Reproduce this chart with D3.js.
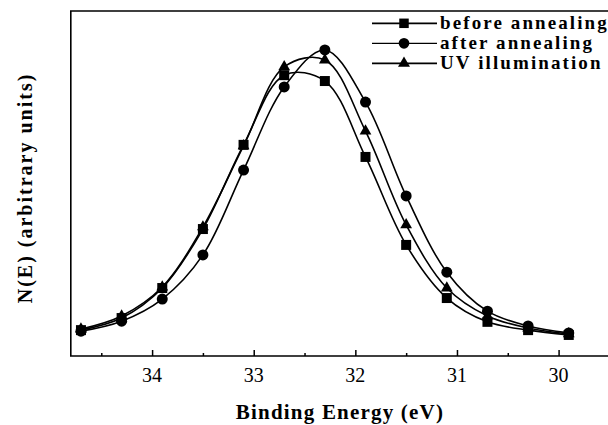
<!DOCTYPE html>
<html>
<head>
<meta charset="utf-8">
<script src="https://cdn.jsdelivr.net/npm/d3@7"></script>
<style>
  body { margin: 0; background: #fff; }
  svg { display: block; }
</style>
</head>
<body>
<script>
// binding energies (eV) where the spectra were sampled
var energies = [34.7, 34.3, 33.9, 33.5, 33.1, 32.7, 32.3, 31.9, 31.5, 31.1, 30.7, 30.3, 29.9];

// N(E), arbitrary units
var beforeAnnealing = [7.5, 11.0, 19.7, 36.8, 61.2, 81.4, 79.7, 57.7, 32.2, 16.8, 9.9, 7.5, 6.1];
var afterAnnealing  = [7.2, 10.1, 16.5, 29.3, 53.9, 78.0, 88.7, 73.6, 46.4, 24.3, 13.0, 8.7, 6.7];
var uvIllumination  = [7.8, 11.6, 20.0, 37.4, 60.9, 83.8, 85.8, 65.2, 38.0, 19.7, 11.6, 8.1, 6.4];

var seriesNames = ["before annealing", "after annealing", "UV illumination"];
var seriesSymbols = ["square", "circle", "triangle"];
var xTicks = [34, 33, 32, 31, 30];
var xMinorTicks = [34.5, 33.5, 32.5, 31.5, 30.5];

var w = 608, h = 425;

var xScale = d3.scaleLinear().domain([34.8, 29.5]).range([70.8, 609.4]);
var yScale = d3.scaleLinear().domain([0, 100]).range([356, 11]);

var svg = d3.select("body").append("svg")
  .attr("width", w)
  .attr("height", h);

// frame (right side runs off the picture like the scan)
svg.append("path")
  .attr("d", "M" + xScale(29.45) + "," + yScale(100) + "H" + xScale(34.8) + "V" + yScale(0) + "H" + xScale(29.45))
  .attr("fill", "none")
  .attr("stroke", "#000")
  .attr("stroke-width", 1.6);

// x axis, ticks pointing inward
var xAxis = svg.append("g")
  .attr("transform", "translate(0," + yScale(0) + ")")
  .call(d3.axisTop(xScale).tickValues(xTicks).tickSize(6).tickFormat(""));
xAxis.select(".domain").remove();
xAxis.selectAll("line").attr("stroke-width", 1.5);

var xMinor = svg.append("g")
  .attr("transform", "translate(0," + yScale(0) + ")")
  .call(d3.axisTop(xScale).tickValues(xMinorTicks).tickSize(3).tickFormat(""));
xMinor.select(".domain").remove();
xMinor.selectAll("line").attr("stroke-width", 1.5);

svg.append("g").selectAll("text")
  .data(xTicks)
  .enter()
  .append("text")
  .text(function(d) { return d; })
  .attr("x", function(d) { return xScale(d); })
  .attr("y", 382)
  .attr("text-anchor", "middle")
  .attr("font-family", "Liberation Serif, serif")
  .attr("font-size", 20);

// axis titles
svg.append("text")
  .text("Binding Energy (eV)")
  .attr("x", 340)
  .attr("y", 419)
  .attr("text-anchor", "middle")
  .attr("font-family", "Liberation Serif, serif")
  .attr("font-weight", "bold")
  .attr("font-size", 21)
  .attr("letter-spacing", 1.2);

svg.append("text")
  .text("N(E) (arbitrary units)")
  .attr("transform", "translate(32,188) rotate(-90)")
  .attr("text-anchor", "middle")
  .attr("font-family", "Liberation Serif, serif")
  .attr("font-weight", "bold")
  .attr("font-size", 20)
  .attr("letter-spacing", 2);

// curves and markers
var allSeries = [beforeAnnealing, afterAnnealing, uvIllumination];

var symbolTypes = {
  square: d3.symbol().type(d3.symbolSquare).size(100),
  circle: d3.symbol().type(d3.symbolCircle).size(95),
  triangle: d3.symbol().type(d3.symbolTriangle).size(60)
};
var legendSymbols = {
  square: d3.symbol().type(d3.symbolSquare).size(90),
  circle: d3.symbol().type(d3.symbolCircle).size(90),
  triangle: d3.symbol().type(d3.symbolTriangle).size(62)
};

var line = d3.line()
  .x(function(d) { return xScale(d[0]); })
  .y(function(d) { return yScale(d[1]); })
  .curve(d3.curveCatmullRom.alpha(0.5));

allSeries.forEach(function(values, i) {
  var pts = energies.map(function(e, j) { return [e, values[j]]; });

  svg.append("path")
    .datum(pts)
    .attr("d", line)
    .attr("fill", "none")
    .attr("stroke", "#000")
    .attr("stroke-width", 1.6);

  svg.append("g").selectAll("path")
    .data(pts)
    .enter()
    .append("path")
    .attr("d", symbolTypes[seriesSymbols[i]])
    .attr("transform", function(d) { return "translate(" + xScale(d[0]) + "," + yScale(d[1]) + ")"; })
    .attr("fill", "#000");
});

// legend
var legend = svg.append("g").selectAll("g")
  .data(seriesNames)
  .enter()
  .append("g")
  .attr("transform", function(d, i) { return "translate(0," + (23.3 + i * 20) + ")"; });

legend.append("line")
  .attr("x1", 372)
  .attr("x2", 437)
  .attr("stroke", "#000")
  .attr("stroke-width", function(d, i) { return i == 1 ? 1.2 : 1.8; });

legend.append("path")
  .attr("d", function(d, i) { return legendSymbols[seriesSymbols[i]](); })
  .attr("transform", "translate(404,0)")
  .attr("fill", "#000");

legend.append("text")
  .text(function(d) { return d; })
  .attr("x", 440)
  .attr("y", 5.8)
  .attr("font-family", "Liberation Serif, serif")
  .attr("font-weight", "bold")
  .attr("font-size", 19)
  .attr("letter-spacing", 2.1);
</script>
</body>
</html>
